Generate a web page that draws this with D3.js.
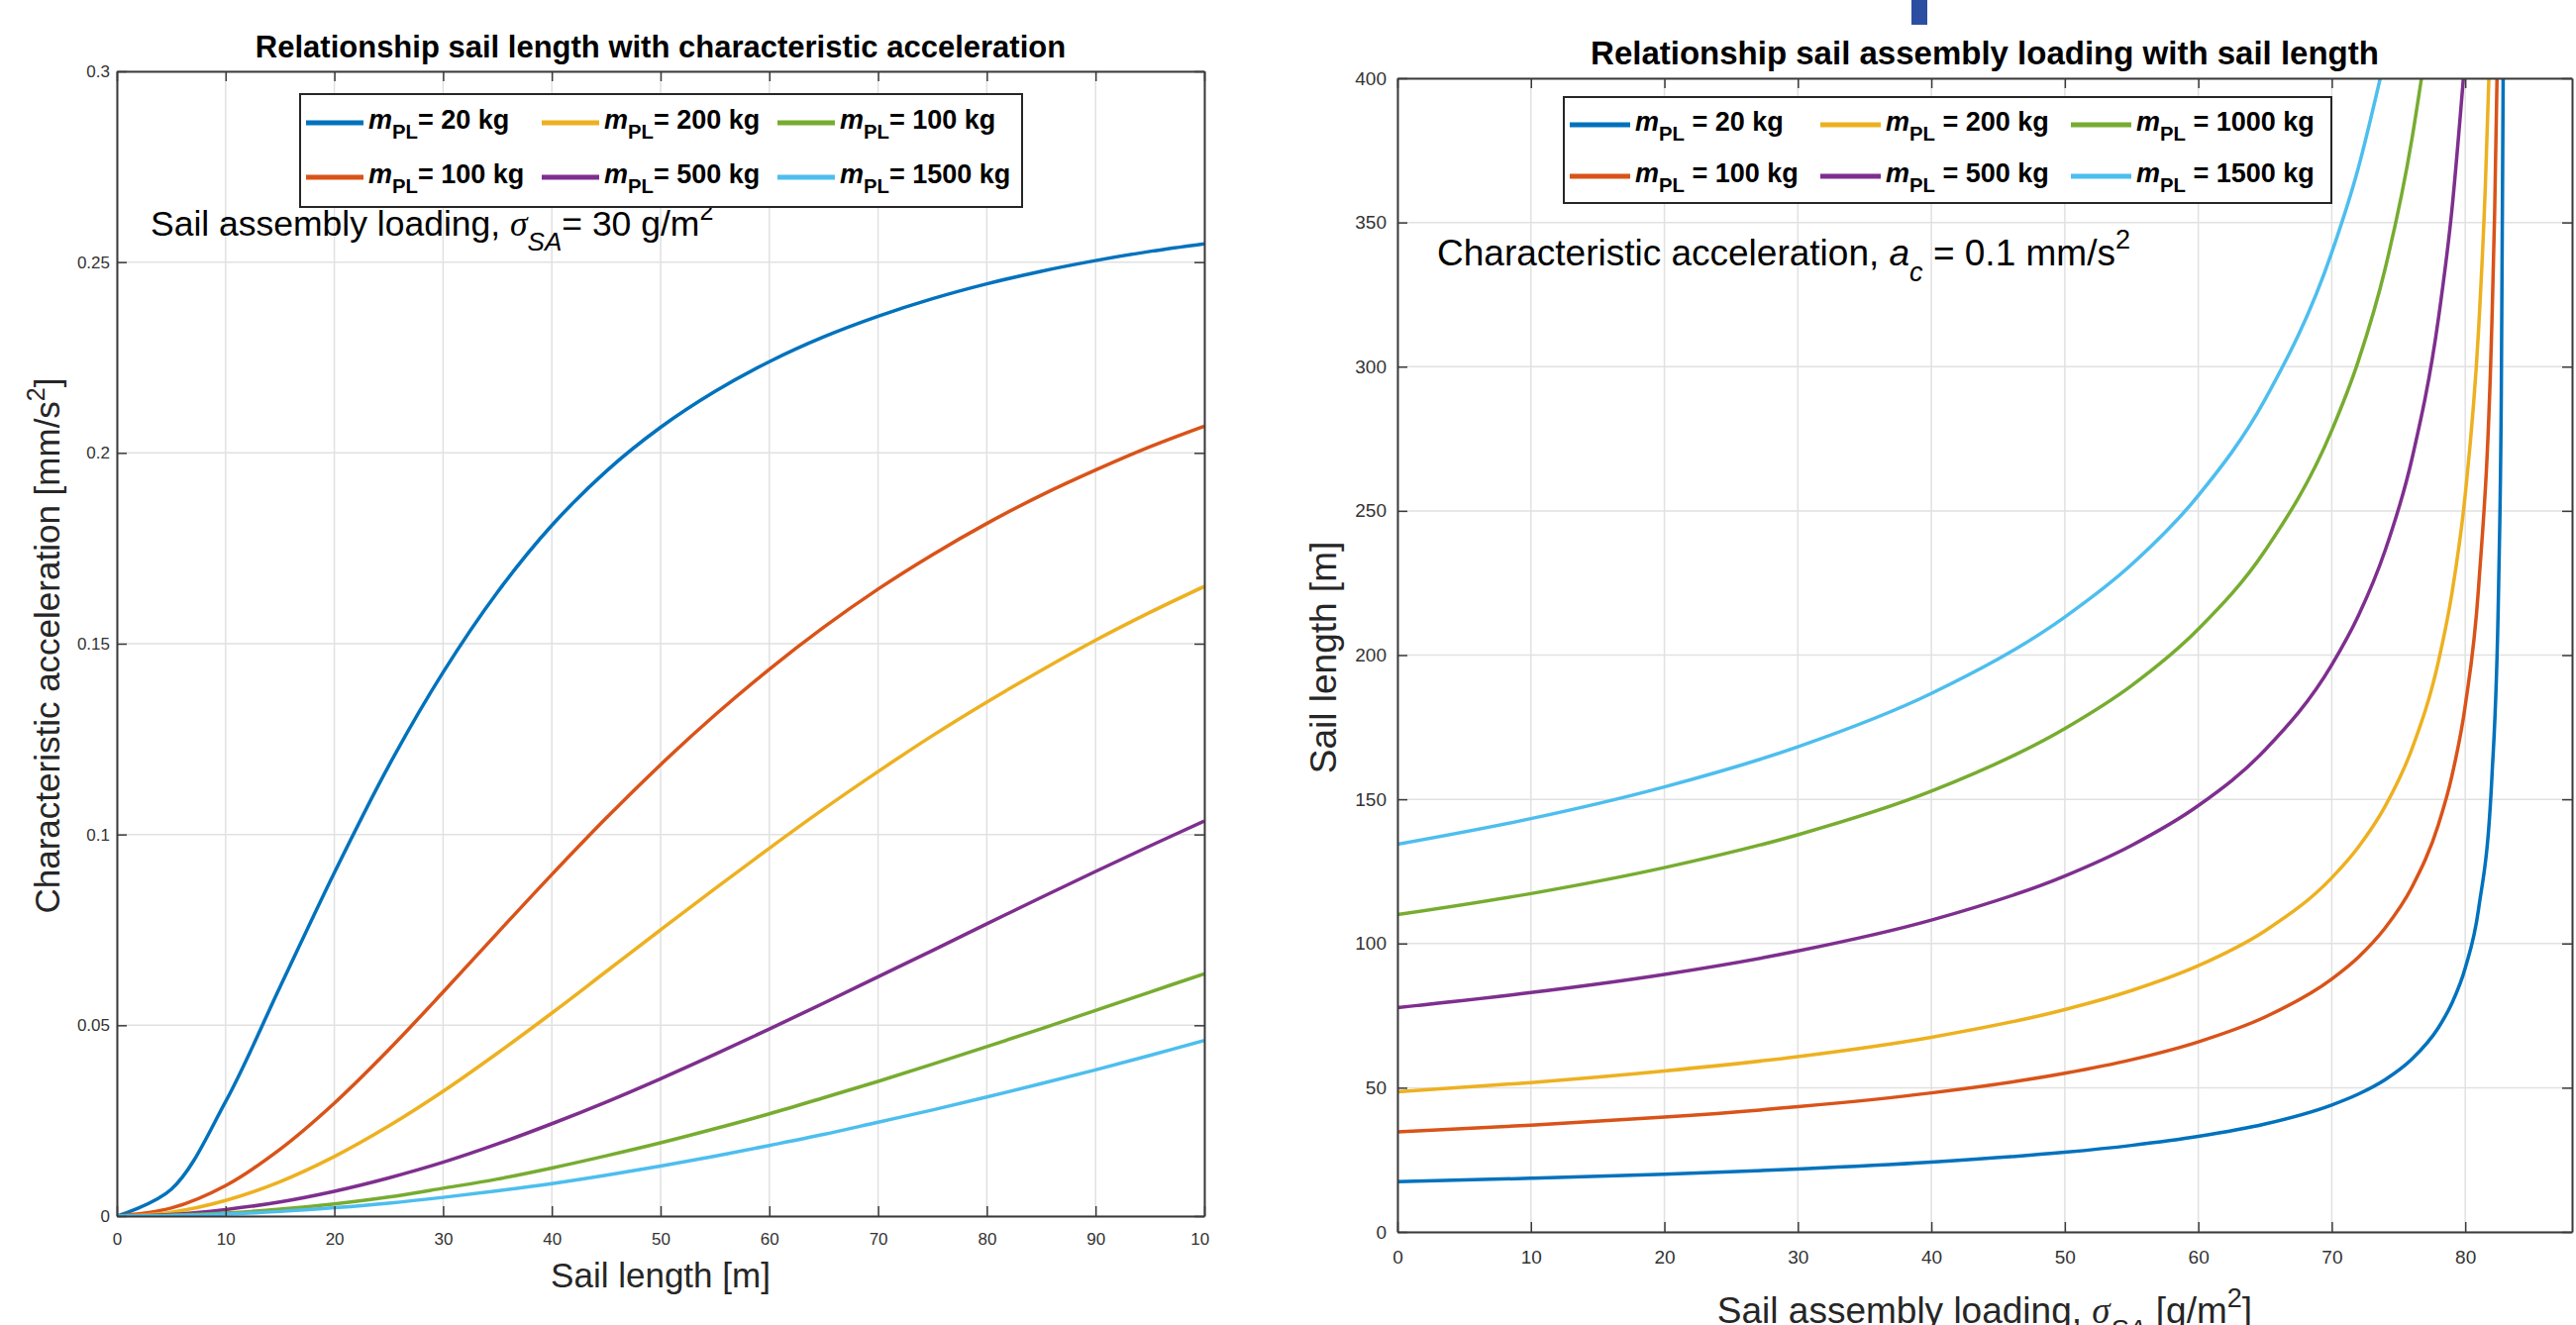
<!DOCTYPE html>
<html>
<head>
<meta charset="utf-8">
<script src="https://cdn.jsdelivr.net/npm/d3@7"></script>
<style>
  body { margin: 0; background: #fff; }
  text { font-family: "Liberation Sans", Arial, Helvetica, sans-serif; white-space: pre; }
</style>
</head>
<body>
<div id="chart"></div>
<script>

// ---- left panel data: sail length vs characteristic acceleration (sigma_SA = 30 g/m2)
const sailLength = [0, 5, 10, 15, 20, 25, 30, 35, 40, 45, 50, 55, 60, 65, 70, 75, 80, 85, 90, 95, 100];
const acc20   = [0, 0.007, 0.030, 0.060, 0.090, 0.118, 0.1425, 0.1635, 0.181, 0.1952, 0.2067, 0.2161, 0.2239, 0.2304, 0.2358, 0.2404, 0.2443, 0.2476, 0.2504, 0.2528, 0.2548];
const acc100  = [0, 0.0021, 0.0080, 0.0175, 0.0296, 0.0436, 0.0587, 0.0742, 0.0895, 0.1043, 0.1183, 0.1313, 0.1433, 0.1543, 0.1643, 0.1733, 0.1815, 0.1889, 0.1955, 0.2016, 0.2070];
const acc200  = [0, 0.0010, 0.0041, 0.0090, 0.0156, 0.0236, 0.0327, 0.0427, 0.0532, 0.0641, 0.0750, 0.0858, 0.0964, 0.1067, 0.1165, 0.1259, 0.1347, 0.1430, 0.1509, 0.1582, 0.1650];
const acc500  = [0, 0.0004, 0.0017, 0.0037, 0.0065, 0.0100, 0.0141, 0.0189, 0.0242, 0.0299, 0.0360, 0.0424, 0.0490, 0.0558, 0.0627, 0.0696, 0.0766, 0.0835, 0.0903, 0.0970, 0.1035];
const acc1000 = [0, 0.0002, 0.0008, 0.0018, 0.0032, 0.005, 0.0073, 0.0097, 0.0126, 0.0158, 0.0192, 0.0229, 0.0268, 0.031, 0.0353, 0.0398, 0.0444, 0.0491, 0.0539, 0.0587, 0.0635];
const acc1500 = [0, 0.0001, 0.0005, 0.0012, 0.0022, 0.0034, 0.0049, 0.0066, 0.0085, 0.0107, 0.0131, 0.0157, 0.0185, 0.0214, 0.0246, 0.0278, 0.0312, 0.0347, 0.0383, 0.0421, 0.046];
const leftLegendMass = ["20", "100", "200", "500", "100", "1500"];   // the green one reads "100" in the original
const leftXTicks = [0, 10, 20, 30, 40, 50, 60, 70, 80, 90, 100];
const leftYTicks = [0, 0.05, 0.1, 0.15, 0.2, 0.25, 0.3];

// ---- right panel data: sail assembly loading vs sail length (a_c = 0.1 mm/s2)
const sig20   = [0, 10, 20, 30, 40, 50, 55, 60, 65, 70, 72, 74, 76, 78, 79, 80, 81, 82, 82.5, 82.7, 82.84];
const len20   = [17.4, 18.6, 20.0, 21.8, 24.2, 27.6, 30.0, 33.1, 37.4, 44.0, 47.8, 52.8, 59.9, 70.9, 79.3, 91.5, 112, 158, 224, 290, 400];
const sig100  = [0, 10, 20, 30, 40, 50, 55, 60, 65, 70, 72, 74, 76, 78, 79, 80, 81, 82, 82.2, 82.38];
const len100  = [34.7, 37.0, 39.8, 43.4, 48.2, 55.0, 59.7, 65.9, 74.5, 87.7, 95.3, 105.4, 119.5, 141.4, 158.1, 182.5, 223.6, 316, 353, 400];
const sig200  = [0, 10, 20, 30, 40, 50, 55, 60, 65, 70, 72, 74, 76, 78, 79, 80, 81, 81.5, 81.77];
const len200  = [48.6, 51.8, 55.8, 60.8, 67.5, 77.1, 83.7, 92.3, 104.4, 122.8, 133.5, 147.6, 167.4, 198.0, 221.4, 255.7, 313, 362, 400];
const sig500  = [0, 10, 20, 30, 40, 50, 55, 60, 65, 70, 72, 74, 76, 78, 79, 79.86];
const len500  = [77.8, 83.0, 89.3, 97.4, 108.1, 123.4, 134.0, 147.8, 167.1, 196.6, 213.7, 236.3, 267.9, 317.0, 354.4, 400];
const sig1000 = [0, 10, 20, 30, 40, 50, 55, 60, 65, 70, 72, 74, 76, 76.72];
const len1000 = [110, 117.3, 126.3, 137.7, 152.8, 174.5, 189.4, 209.0, 236.2, 277.9, 302.1, 334.0, 378.8, 400];
const sig1500 = [0, 10, 20, 30, 40, 50, 55, 60, 65, 70, 72, 73.63];
const len1500 = [134.4, 143.3, 154.3, 168.2, 186.7, 213.2, 231.4, 255.3, 288.6, 339.6, 369.1, 400];
const rightLegendMass = ["20", "100", "200", "500", "1000", "1500"];
const rightXTicks = [0, 10, 20, 30, 40, 50, 60, 70, 80];
const rightYTicks = [0, 50, 100, 150, 200, 250, 300, 350, 400];

const colors = ["#0072BD", "#D95319", "#EDB120", "#7E2F8E", "#77AC30", "#4DBEEE"];

const svg = d3.select("#chart").append("svg")
    .attr("width", 2601)
    .attr("height", 1338);
svg.append("rect").attr("width", 2601).attr("height", 1338).attr("fill", "#fff");

// little blue mark at the top edge of the original figure
svg.append("rect").attr("x", 1930).attr("y", 0).attr("width", 16).attr("height", 25).attr("fill", "#2c4ea2");

// text with sub / superscripts, parts = [{t, dy, size, italic, family}]
function rich(g, x, y, parts, size, anchor) {
    const t = g.append("text")
        .attr("x", x).attr("y", y)
        .attr("font-size", size)
        .attr("text-anchor", anchor || "start")
        .attr("fill", "#000");
    let shift = 0;
    parts.forEach(p => {
        const s = t.append("tspan").text(p.t);
        const target = p.dy || 0;
        s.attr("dy", target - shift);
        shift = target;
        if (p.size) s.attr("font-size", p.size);
        if (p.italic) s.attr("font-style", "italic");
        if (p.family) s.attr("font-family", p.family);
    });
    return t;
}

function drawPanel(cfg) {
    const g = svg.append("g");
    if (cfg.clipRight) {
        svg.append("clipPath").attr("id", "clip-" + cfg.id)
            .append("rect").attr("x", 0).attr("y", 0).attr("width", cfg.clipRight).attr("height", 1338);
        g.attr("clip-path", `url(#clip-${cfg.id})`);
    }
    const x = d3.scaleLinear().domain(cfg.xDomain).range([cfg.left, cfg.right]);
    const y = d3.scaleLinear().domain(cfg.yDomain).range([cfg.bottom, cfg.top]);

    // grid
    const grid = g.append("g").attr("stroke", "#e1e1e1").attr("stroke-width", 1.5);
    grid.selectAll(".gx").data(cfg.xTicks).join("line")
        .attr("x1", d => x(d)).attr("x2", d => x(d))
        .attr("y1", cfg.top).attr("y2", cfg.bottom);
    grid.selectAll(".gy").data(cfg.yTicks).join("line")
        .attr("x1", cfg.left).attr("x2", cfg.right)
        .attr("y1", d => y(d)).attr("y2", d => y(d));

    // curves
    g.append("clipPath").attr("id", "plot-" + cfg.id)
        .append("rect").attr("x", cfg.left).attr("y", cfg.top)
        .attr("width", cfg.right - cfg.left).attr("height", cfg.bottom - cfg.top);
    const line = d3.line()
        .curve(cfg.curve)
        .x(d => x(d[0]))
        .y(d => y(d[1]));
    g.append("g").attr("clip-path", `url(#plot-${cfg.id})`)
        .selectAll("path").data(cfg.series).join("path")
        .attr("fill", "none")
        .attr("stroke", (d, i) => colors[i])
        .attr("stroke-width", 3.5)
        .attr("d", d => line(d));

    // axes (ticks pointing inward like matlab)
    const axisColor = "#3a3a3a";
    const bottomAxis = g.append("g")
        .attr("transform", `translate(0,${cfg.bottom})`)
        .call(d3.axisBottom(x).tickValues(cfg.xTicks).tickSizeInner(-10).tickSizeOuter(0)
            .tickPadding(cfg.xPad).tickFormat(d => d));
    const leftAxis = g.append("g")
        .attr("transform", `translate(${cfg.left},0)`)
        .call(d3.axisLeft(y).tickValues(cfg.yTicks).tickSizeInner(-10).tickSizeOuter(0)
            .tickPadding(cfg.yPad).tickFormat(d => d));
    const topAxis = g.append("g")
        .attr("transform", `translate(0,${cfg.top})`)
        .call(d3.axisTop(x).tickValues(cfg.xTicks).tickSizeInner(-10).tickSizeOuter(0).tickFormat(""));
    const rightAxis = g.append("g")
        .attr("transform", `translate(${cfg.right},0)`)
        .call(d3.axisRight(y).tickValues(cfg.yTicks).tickSizeInner(-10).tickSizeOuter(0).tickFormat(""));
    [bottomAxis, leftAxis, topAxis, rightAxis].forEach(a => {
        a.select(".domain").attr("stroke", axisColor).attr("stroke-width", 2);
        a.selectAll(".tick line").attr("stroke", axisColor).attr("stroke-width", 1.5);
        a.selectAll("text").attr("fill", "#333").attr("font-size", cfg.tickFont)
            .attr("font-family", "Liberation Sans, Arial, sans-serif");
    });

    // title
    g.append("text")
        .attr("x", (cfg.left + cfg.right) / 2).attr("y", cfg.titleY)
        .attr("text-anchor", "middle")
        .attr("font-size", cfg.titleFont).attr("font-weight", "bold")
        .text(cfg.title);

    // axis labels
    rich(g, (cfg.left + cfg.right) / 2, cfg.xLabelY, cfg.xLabel, cfg.labelFont, "middle").attr("fill", "#262626");
    rich(g, 0, 0, cfg.yLabel, cfg.labelFont, "middle").attr("fill", "#262626")
        .attr("transform", `translate(${cfg.yLabelX},${cfg.yLabelMid}) rotate(-90)`);

    // annotation
    rich(g, cfg.noteX, cfg.noteY, cfg.note, cfg.noteFont);

    // legend
    const lg = g.append("g");
    const L = cfg.legend;
    lg.append("rect")
        .attr("x", L.x).attr("y", L.y).attr("width", L.w).attr("height", L.h)
        .attr("fill", "#fff").attr("stroke", "#262626").attr("stroke-width", 2);
    cfg.legendMass.forEach((m, i) => {
        const col = Math.floor(i / 2), row = i % 2;
        const lx = L.x + L.pad + col * L.colW;
        const ly = L.y + L.row0 + row * L.rowH;
        lg.append("line")
            .attr("x1", lx).attr("x2", lx + L.lineLen)
            .attr("y1", ly).attr("y2", ly)
            .attr("stroke", colors[i]).attr("stroke-width", 5);
        rich(lg, lx + L.lineLen + 5, ly + 6, [
            { t: "m", italic: true },
            { t: "PL", dy: 10, size: L.font * 0.75 },
            { t: L.eq + m + " kg", dy: 0 }
        ], L.font).attr("font-weight", "bold");
    });
}

drawPanel({
    id: "left",
    left: 118, right: 1216, top: 72, bottom: 1228, clipRight: 1221,
    xDomain: [0, 100], yDomain: [0, 0.3],
    xTicks: leftXTicks, yTicks: leftYTicks,
    series: [acc20, acc100, acc200, acc500, acc1000, acc1500].map(s => s.map((v, i) => [sailLength[i], v])),
    curve: d3.curveCatmullRom.alpha(0.5),
    tickFont: 17, xPad: 17, yPad: 7,
    title: "Relationship sail length with characteristic acceleration", titleY: 58, titleFont: 31,
    labelFont: 35,
    xLabel: [{ t: "Sail length [m]" }], xLabelY: 1300,
    yLabel: [{ t: "Characteristic acceleration [mm/s" }, { t: "2", dy: -15, size: 25 }, { t: "]", dy: 0 }],
    yLabelX: 60, yLabelMid: 652,
    note: [{ t: "Sail assembly loading, " },
           { t: "σ", italic: true, family: "Liberation Serif, serif" },
           { t: "SA", italic: true, dy: 15, size: 26 },
           { t: "= 30 g/m", dy: 0 },
           { t: "2", dy: -16, size: 25 }],
    noteX: 152, noteY: 238, noteFont: 35.5,
    legendMass: leftLegendMass,
    legend: { x: 303, y: 95, w: 729, h: 114, pad: 6, colW: 238, row0: 29, rowH: 55, lineLen: 58, font: 27, eq: "= " }
});

drawPanel({
    id: "right",
    left: 1411, right: 2597, top: 79, bottom: 1244,
    xDomain: [0, 88], yDomain: [0, 400],
    xTicks: rightXTicks, yTicks: rightYTicks,
    series: [[sig20, len20], [sig100, len100], [sig200, len200], [sig500, len500], [sig1000, len1000], [sig1500, len1500]]
        .map(([s, l]) => s.map((v, i) => [v, l[i]])),
    curve: d3.curveMonotoneX,
    tickFont: 19, xPad: 19, yPad: 11,
    title: "Relationship sail assembly loading with sail length", titleY: 65, titleFont: 33,
    labelFont: 37,
    xLabel: [{ t: "Sail assembly loading, " },
             { t: "σ", italic: true, family: "Liberation Serif, serif" },
             { t: "SA", italic: true, dy: 16, size: 27 },
             { t: " [g/m", dy: 0 },
             { t: "2", dy: -16, size: 27 },
             { t: "]", dy: 0 }],
    xLabelY: 1336,
    yLabel: [{ t: "Sail length [m]" }],
    yLabelX: 1349, yLabelMid: 664,
    note: [{ t: "Characteristic acceleration, " },
           { t: "a", italic: true },
           { t: "c", italic: true, dy: 16, size: 27 },
           { t: " = 0.1 mm/s", dy: 0 },
           { t: "2", dy: -17, size: 27 }],
    noteX: 1451, noteY: 268, noteFont: 37,
    legendMass: rightLegendMass,
    legend: { x: 1579, y: 98, w: 775, h: 107, pad: 6, colW: 253, row0: 28, rowH: 52, lineLen: 61, font: 27, eq: " = " }
});

</script>
</body>
</html>
